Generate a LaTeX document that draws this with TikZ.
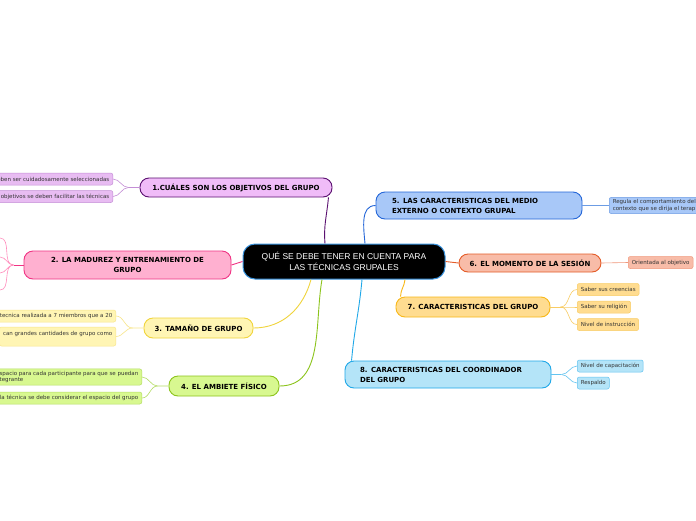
\documentclass[tikz,border=0pt]{standalone}
\usepackage{fontspec}
\setmainfont{DejaVu Sans}
\newfontfamily\rootfont{Liberation Sans}
\usetikzlibrary{positioning}
\definecolor{rootB}{HTML}{3A94E0}
\definecolor{purpF}{HTML}{F0BCF8}
\definecolor{purpD}{HTML}{5A1070}
\definecolor{purpS}{HTML}{E8BCF2}
\definecolor{purpL}{HTML}{C48ED6}
\definecolor{pinkF}{HTML}{FFB0D0}
\definecolor{pinkD}{HTML}{F03484}
\definecolor{pinkL}{HTML}{FF8CBC}
\definecolor{yellF}{HTML}{FFF5B4}
\definecolor{yellD}{HTML}{F0D43C}
\definecolor{yellL}{HTML}{F8E68C}
\definecolor{grenF}{HTML}{D8F890}
\definecolor{grenD}{HTML}{8CC41C}
\definecolor{grenL}{HTML}{B4DC64}
\definecolor{blueF}{HTML}{A8C8F8}
\definecolor{blueD}{HTML}{2466D8}
\definecolor{blueL}{HTML}{6C9CE4}
\definecolor{salmF}{HTML}{F8BCA8}
\definecolor{salmD}{HTML}{E45C28}
\definecolor{salmL}{HTML}{F0987C}
\definecolor{orngF}{HTML}{FFDC90}
\definecolor{orngD}{HTML}{F8B818}
\definecolor{orngL}{HTML}{F8CC64}
\definecolor{skyF}{HTML}{B4E4F8}
\definecolor{skyD}{HTML}{20A8E8}
\definecolor{skyL}{HTML}{64C4F0}
\definecolor{leafT}{HTML}{333333}

\begin{document}
\begin{tikzpicture}[x=1pt, y=-1pt,
    topic/.style={draw, line width=0.9pt, rounded corners=9pt, inner sep=0pt,
      font=\fontsize{7}{10}\selectfont\bfseries, align=center},
    leaf/.style={draw, line width=0.5pt, rounded corners=2pt, inner xsep=3.5pt,
      inner ysep=2pt, minimum height=12pt, text=leafT,
      font=\fontsize{5.5}{6.8}\selectfont, align=left},
    branch/.style={line width=0.9pt},
    twig/.style={line width=0.6pt}]
  \fill[white] (0,0) rectangle (696,520);
  \useasboundingbox (0,0) rectangle (696,520);

  \node[draw=rootB, fill=black, text=white, line width=1pt, rounded corners=12pt,
    minimum width=202pt, minimum height=35pt, align=center,
    font=\rootfont\fontsize{8.5}{10.5}\selectfont] (root) at (344,261.5)
    {QUÉ SE DEBE TENER EN CUENTA PARA\\LAS TÉCNICAS GRUPALES};

  \node[topic, draw=purpD, fill=purpF, minimum width=192pt, minimum height=19pt] (t1) at (236,187.5)
    {1.CUÁLES SON LOS OBJETIVOS DEL GRUPO};
  \node[topic, draw=pinkD, fill=pinkF, minimum width=207pt, minimum height=28pt] (t2) at (127.5,265)
    {2. LA MADUREZ Y ENTRENAMIENTO DE\\GRUPO};
  \node[topic, draw=yellD, fill=yellF, minimum width=109pt, minimum height=20pt] (t3) at (198.5,328)
    {3. TAMAÑO DE GRUPO};
  \node[topic, draw=grenD, fill=grenF, minimum width=110pt, minimum height=20pt] (t4) at (224,386)
    {4. EL AMBIETE FÍSICO};
  \node[topic, draw=blueD, fill=blueF, minimum width=206pt, minimum height=27pt,
    text width=174pt, align=left] (t5) at (479,205.5)
    {5. LAS CARACTERISTICAS DEL MEDIO\\EXTERNO O CONTEXTO GRUPAL};
  \node[topic, draw=salmD, fill=salmF, minimum width=142pt, minimum height=18pt] (t6) at (530,263)
    {6. EL MOMENTO DE LA SESIÓN};
  \node[topic, draw=orngD, fill=orngF, minimum width=154pt, minimum height=20pt] (t7) at (473,307)
    {7. CARACTERISTICAS DEL GRUPO};
  \node[topic, draw=skyD, fill=skyF, minimum width=206pt, minimum height=27pt,
    text width=176pt, align=left] (t8) at (448,374.5)
    {8. CARACTERISTICAS DEL COORDINADOR\\DEL GRUPO};

  \node[leaf, draw=purpL, fill=purpS, anchor=east] (l11) at (113,179) {eben ser cuidadosamente seleccionadas};
  \node[leaf, draw=purpL, fill=purpS, anchor=east] (l12) at (113,196.5) {objetivos se deben facilitar las técnicas};
  \node[leaf, draw=yellL, fill=yellF, anchor=east] (l31) at (116,316) {tecnica realizada a 7 miembros que a 20};
  \node[leaf, draw=yellL, fill=yellF, anchor=east, minimum height=19pt] (l32) at (116,336.5)
    {can grandes cantidades de grupo como\\~};
  \node[leaf, draw=grenL, fill=grenF, anchor=east] (l41) at (142,377)
    {espacio para cada participante para que se puedan\\ntegrante};
  \node[leaf, draw=grenL, fill=grenF, anchor=east] (l42) at (142,398)
    {la técnica se debe considerar el espacio del grupo};
  \node[leaf, draw=blueL, fill=blueF, anchor=west] (l51) at (609,205.5)
    {Regula el comportamiento del\\contexto que se dirija el terap};
  \node[leaf, draw=salmL, fill=salmF, anchor=west] (l61) at (628,262.5) {Orientada al objetivo};
  \node[leaf, draw=orngL, fill=orngF, anchor=west] (l71) at (577,289.5) {Saber sus creencias};
  \node[leaf, draw=orngL, fill=orngF, anchor=west] (l72) at (577,307) {Saber su religión};
  \node[leaf, draw=orngL, fill=orngF, anchor=west] (l73) at (577,324.5) {Nivel de instrucción};
  \node[leaf, draw=skyL, fill=skyF, anchor=west] (l81) at (577,366) {Nivel de capacitación};
  \node[leaf, draw=skyL, fill=skyF, anchor=west] (l82) at (577,383) {Respaldo};

  \draw[branch, purpD] ([xshift=-19pt]root.north) to[out=95,in=-95] ([xshift=-4pt]t1.south east);
  \draw[branch, pinkD] (root.west) -- (t2.east);
  \draw[branch, yellD] ([xshift=-33pt]root.south) to[out=-105,in=0] (t3.east);
  \draw[branch, grenD] ([xshift=-22pt]root.south) to[out=-100,in=0] (t4.east);
  \draw[branch, blueD] ([xshift=21pt]root.north) to[out=95,in=180] (t5.west);
  \draw[branch, salmD] (root.east) -- (t6.west);
  \draw[branch, orngD] ([xshift=61pt]root.south) to[out=-95,in=90] ([xshift=5pt]t7.north west);
  \draw[branch, skyD] ([xshift=18pt]root.south) to[out=-95,in=85] ([xshift=7pt]t8.north west);

  \coordinate (k1) at ([xshift=-11pt]t1.west);
  \draw[twig, purpL] (t1.west) -- (k1) to[out=180,in=0] (l11.east);
  \draw[twig, purpL] (k1) to[out=180,in=0] (l12.east);

  \coordinate (k2) at ([xshift=-10pt]t2.west);
  \coordinate (e21) at (0,238);
  \coordinate (e22) at (0,257);
  \coordinate (e23) at (0,273);
  \coordinate (e24) at (0,290);
  \draw[twig, pinkD] (t2.west) -- (k2);
  \foreach \e in {e21,e22,e23,e24}
    \draw[twig, pinkL] (k2) to[out=180,in=0] (\e);

  \coordinate (k3) at ([xshift=-11pt]t3.west);
  \draw[twig, yellL] (t3.west) -- (k3) to[out=180,in=0] (l31.east);
  \draw[twig, yellL] (k3) to[out=180,in=0] (l32.east);

  \coordinate (k4) at ([xshift=-11pt]t4.west);
  \draw[twig, grenL] (t4.west) -- (k4) to[out=180,in=0] (l41.east);
  \draw[twig, grenL] (k4) to[out=180,in=0] (l42.east);

  \draw[twig, blueL] (t5.east) -- (l51.west);
  \draw[twig, salmL] (t6.east) -- (l61.west);

  \coordinate (k7) at ([xshift=10pt]t7.east);
  \draw[twig, orngL] (t7.east) -- (k7);
  \foreach \l in {l71,l72,l73}
    \draw[twig, orngL] (k7) to[out=0,in=180] (\l.west);

  \coordinate (k8) at ([xshift=10pt]t8.east);
  \draw[twig, skyL] (t8.east) -- (k8);
  \foreach \l in {l81,l82}
    \draw[twig, skyL] (k8) to[out=0,in=180] (\l.west);
\end{tikzpicture}
\end{document}
